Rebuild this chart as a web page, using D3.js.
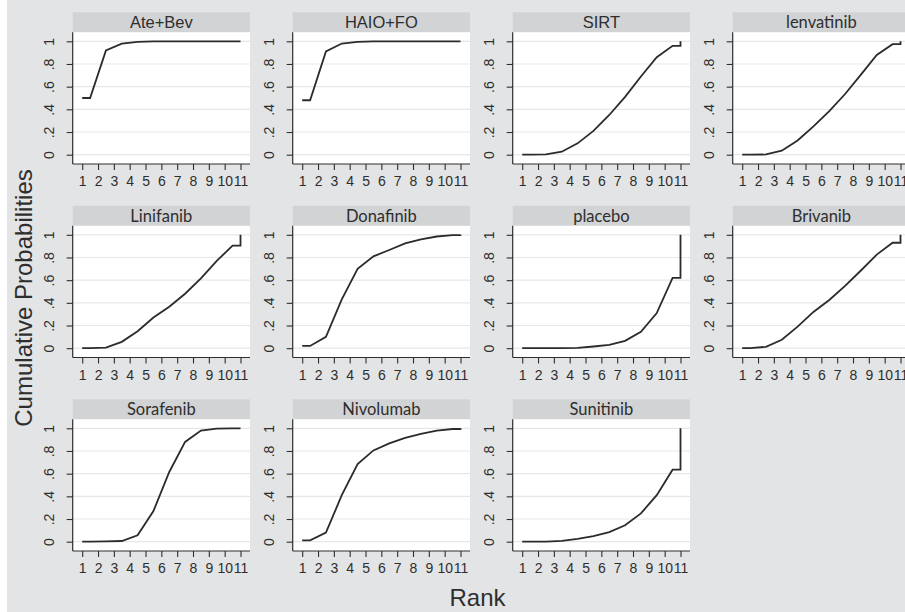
<!DOCTYPE html>
<html>
<head>
<meta charset="utf-8">
<script src="https://cdn.jsdelivr.net/npm/d3@7"></script>
<style>
  body { margin: 0; background: #fff; }
  svg { display: block; }
</style>
</head>
<body>
<div id="chart"></div>
<script>
// Cumulative ranking probabilities, one array per treatment (rank 1..11)
const treatments = ['Ate+Bev', 'HAIO+FO', 'SIRT', 'lenvatinib', 'Linifanib', 'Donafinib',
  'placebo', 'Brivanib', 'Sorafenib', 'Nivolumab', 'Sunitinib'];
const ranks = [1, 2, 3, 4, 5, 6, 7, 8, 9, 10, 11];
const yTicks = [0, 0.2, 0.4, 0.6, 0.8, 1];
const yTickLabels = ['0', '.2', '.4', '.6', '.8', '1'];

const ateBev     = [0.50, 0.92, 0.98, 0.995, 0.999, 1, 1, 1, 1, 1, 1];
const haioFo     = [0.48, 0.91, 0.98, 0.995, 0.999, 1, 1, 1, 1, 1, 1];
const sirt       = [0, 0.003, 0.026, 0.10, 0.21, 0.35, 0.51, 0.69, 0.86, 0.96, 1];
const lenvatinib = [0, 0.002, 0.035, 0.126, 0.25, 0.385, 0.535, 0.706, 0.88, 0.975, 1];
const linifanib  = [0, 0.005, 0.056, 0.15, 0.27, 0.365, 0.48, 0.615, 0.77, 0.905, 1];
const donafinib  = [0.02, 0.10, 0.43, 0.70, 0.81, 0.866, 0.925, 0.96, 0.985, 0.997, 1];
const placebo    = [0, 0, 0, 0.003, 0.015, 0.03, 0.065, 0.145, 0.31, 0.62, 1];
const brivanib   = [0, 0.012, 0.074, 0.19, 0.32, 0.425, 0.55, 0.685, 0.825, 0.93, 1];
const sorafenib  = [0, 0.002, 0.006, 0.056, 0.27, 0.615, 0.88, 0.98, 0.997, 1, 1];
const nivolumab  = [0.012, 0.08, 0.41, 0.685, 0.805, 0.867, 0.915, 0.95, 0.98, 0.994, 1];
const sunitinib  = [0, 0.001, 0.007, 0.024, 0.05, 0.085, 0.145, 0.25, 0.41, 0.635, 1];

const seriesValues = [ateBev, haioFo, sirt, lenvatinib, linifanib, donafinib,
  placebo, brivanib, sorafenib, nivolumab, sunitinib];

const width = 905, height = 612;
const cols = 4;
const panel = { left: 72.7, top: 12.3, dx: 220, dy: 193.5, w: 177.3, header: 20, plotH: 131.7 };
const textColor = '#2e2e2e';
const arial = '"Liberation Sans", Arial, sans-serif';
const calibriLike = new Set(['lenvatinib', 'Linifanib', 'Donafinib', 'placebo', 'Brivanib',
  'Sorafenib', 'Nivolumab', 'Sunitinib']);

const svg = d3.select('#chart').append('svg')
  .attr('width', width)
  .attr('height', height);

// grey page background (thin white strip on the left like the source)
svg.append('rect')
  .attr('x', 7).attr('y', 0)
  .attr('width', width - 7).attr('height', height)
  .attr('fill', '#e3e4e6');

treatments.forEach((name, i) => {
  const values = seriesValues[i];
  const px = panel.left + (i % cols) * panel.dx;
  const py = panel.top + Math.floor(i / cols) * panel.dy;
  const plotTop = py + panel.header;
  const plotBottom = plotTop + panel.plotH;

  const x = d3.scaleLinear().domain([1, 11]).range([px + 9.5, px + panel.w - 9.5]);
  const y = d3.scaleLinear().domain([0, 1]).range([plotBottom - 9.3, plotTop + 9]);

  const g = svg.append('g').attr('class', 'panel');

  // header strip
  g.append('rect')
    .attr('x', px).attr('y', py)
    .attr('width', panel.w).attr('height', panel.header)
    .attr('fill', '#d2d3d5');
  g.append('text')
    .attr('x', px + panel.w / 2)
    .attr('y', py + panel.header / 2)
    .attr('dy', '0.36em')
    .attr('text-anchor', 'middle')
    .style('font-family', calibriLike.has(name) ? 'Lato, "Open Sans", sans-serif' : arial)
    .style('font-size', '16.5px')
    .style('fill', textColor)
    .text(name);

  // plot region
  g.append('rect')
    .attr('x', px).attr('y', plotTop)
    .attr('width', panel.w).attr('height', panel.plotH)
    .attr('fill', '#fff');

  // gridlines
  g.append('g')
    .selectAll('line')
    .data(yTicks)
    .join('line')
    .attr('x1', px).attr('x2', px + panel.w)
    .attr('y1', d => y(d)).attr('y2', d => y(d))
    .attr('stroke', '#e6e7e9')
    .attr('stroke-width', 1.2);

  // y axis
  const yAxis = g.append('g')
    .attr('transform', `translate(${px},0)`)
    .call(d3.axisLeft(y).tickValues(yTicks).tickSize(6).tickSizeOuter(0)
      .tickFormat((d, k) => yTickLabels[k]));
  yAxis.select('.domain').remove();
  yAxis.selectAll('.tick line').attr('stroke', textColor).attr('stroke-width', 1.1);
  yAxis.selectAll('.tick text')
    .attr('x', 0).attr('y', -18.5).attr('dy', null)
    .attr('text-anchor', 'middle')
    .attr('transform', 'rotate(-90)')
    .style('font-family', arial)
    .style('font-size', '14px')
    .style('fill', textColor);

  // x axis
  const xAxis = g.append('g')
    .attr('transform', `translate(0,${plotBottom})`)
    .call(d3.axisBottom(x).tickValues(ranks).tickSize(6).tickSizeOuter(0).tickPadding(6.5)
      .tickFormat(d3.format('d')));
  xAxis.select('.domain').remove();
  xAxis.selectAll('.tick line').attr('stroke', textColor).attr('stroke-width', 1.1);
  xAxis.selectAll('.tick text')
    .style('font-family', arial)
    .style('font-size', '14px')
    .style('fill', textColor);

  // axis lines spanning the whole plot region
  g.append('line')
    .attr('x1', px).attr('x2', px)
    .attr('y1', plotTop).attr('y2', plotBottom)
    .attr('stroke', textColor).attr('stroke-width', 1.2);
  g.append('line')
    .attr('x1', px).attr('x2', px + panel.w)
    .attr('y1', plotBottom).attr('y2', plotBottom)
    .attr('stroke', textColor).attr('stroke-width', 1.2);

  // cumulative curve: value k drawn at rank k+0.5, flat start and final step to rank 11
  const pts = [[1, values[0]]];
  values.slice(0, 10).forEach((v, k) => pts.push([ranks[k] + 0.5, v]));
  pts.push([11, values[9]]);
  pts.push([11, values[10]]);

  const line = d3.line()
    .x(d => x(d[0]))
    .y(d => y(d[1]));

  g.append('path')
    .datum(pts)
    .attr('d', line)
    .attr('fill', 'none')
    .attr('stroke', '#2b2b2b')
    .attr('stroke-width', 1.8)
    .attr('stroke-linejoin', 'miter');
});

// axis titles
svg.append('text')
  .attr('transform', 'translate(24,298) rotate(-90)')
  .attr('dy', '0.35em')
  .attr('text-anchor', 'middle')
  .style('font-family', arial)
  .style('font-size', '24px')
  .style('fill', textColor)
  .text('Cumulative Probabilities');

svg.append('text')
  .attr('x', 477.5)
  .attr('y', 598)
  .attr('dy', '0.35em')
  .attr('text-anchor', 'middle')
  .style('font-family', arial)
  .style('font-size', '24px')
  .style('fill', textColor)
  .text('Rank');
</script>
</body>
</html>
